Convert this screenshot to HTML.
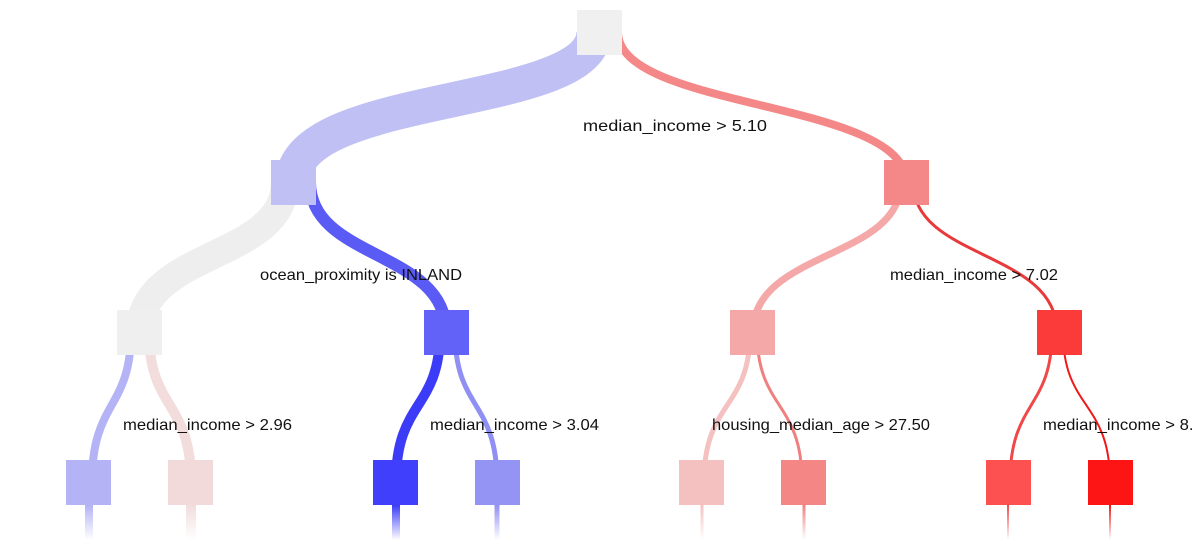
<!DOCTYPE html>
<html><head><meta charset="utf-8"><style>
html,body{margin:0;padding:0;background:#fff;width:1192px;height:551px;overflow:hidden}
svg text{font-family:"Liberation Sans",sans-serif;font-size:16px;fill:#111}
</style></head><body>
<svg width="1192" height="551" viewBox="0 0 1192 551" xmlns="http://www.w3.org/2000/svg">
<defs>
<linearGradient id="fade" x1="0" y1="0" x2="0" y2="1"><stop offset="0" stop-color="#fff" stop-opacity="0"/><stop offset="1" stop-color="#fff" stop-opacity="1"/></linearGradient>
</defs>
<g fill="none">
<path d="M594 32 C594 110 293 90 293 182" stroke="#c0c0f4" stroke-width="35"/>
<path d="M618 32 C618 110 906 100 906 182" stroke="#f48888" stroke-width="8"/>
<path d="M285 182 C285 260 140 250 140 332" stroke="#efeeee" stroke-width="28"/>
<path d="M310 182 C310 260 446 250 446 332" stroke="#5a5af4" stroke-width="12"/>
<path d="M901 182 C901 260 753 250 753 332" stroke="#f5a8a8" stroke-width="7"/>
<path d="M913 182 C913 260 1057 250 1057 332" stroke="#e83a3a" stroke-width="3"/>
<path d="M131 332 C131 410 92 400 92 482" stroke="#b3b3f5" stroke-width="8"/>
<path d="M149 332 C149 410 191 400 191 482" stroke="#f2dcdc" stroke-width="10"/>
<path d="M440 332 C440 410 396 400 396 482" stroke="#3c3cf8" stroke-width="10"/>
<path d="M455 332 C455 410 497 400 497 482" stroke="#9090f4" stroke-width="5"/>
<path d="M750 332 C750 410 704 400 704 482" stroke="#f4c0c0" stroke-width="5"/>
<path d="M757 332 C757 410 802 400 802 482" stroke="#f08080" stroke-width="3"/>
<path d="M1052 332 C1052 410 1010 400 1010 482" stroke="#f04848" stroke-width="3"/>
<path d="M1063 332 C1063 410 1110 400 1110 482" stroke="#f01818" stroke-width="2"/>
<path d="M89 500 V540" stroke="#b3b3f5" stroke-width="8"/>
<path d="M191 500 V540" stroke="#f2dcdc" stroke-width="10"/>
<path d="M396 500 V540" stroke="#3c3cf8" stroke-width="8"/>
<path d="M497 500 V540" stroke="#9090f4" stroke-width="5"/>
<path d="M702 500 V540" stroke="#f4c0c0" stroke-width="3"/>
<path d="M804 500 V540" stroke="#f08080" stroke-width="3"/>
<path d="M1008 500 V540" stroke="#f04848" stroke-width="2"/>
<path d="M1110 500 V540" stroke="#f01818" stroke-width="2"/>
</g>
<rect x="0" y="505" width="1192" height="35" fill="url(#fade)"/>
<g>
<rect x="577" y="10" width="45" height="45" fill="#f0f0f0"/>
<rect x="271" y="160" width="45" height="45" fill="#c0c0f4"/>
<rect x="884" y="160" width="45" height="45" fill="#f48888"/>
<rect x="117" y="310" width="45" height="45" fill="#efefef"/>
<rect x="424" y="310" width="45" height="45" fill="#6262f8"/>
<rect x="730" y="310" width="45" height="45" fill="#f5a8a8"/>
<rect x="1037" y="310" width="45" height="45" fill="#fb3a3a"/>
<rect x="66" y="460" width="45" height="45" fill="#b3b3f5"/>
<rect x="168" y="460" width="45" height="45" fill="#f2dada"/>
<rect x="373" y="460" width="45" height="45" fill="#4040fc"/>
<rect x="475" y="460" width="45" height="45" fill="#9494f5"/>
<rect x="679" y="460" width="45" height="45" fill="#f4c0c0"/>
<rect x="781" y="460" width="45" height="45" fill="#f48686"/>
<rect x="986" y="460" width="45" height="45" fill="#fd5050"/>
<rect x="1088" y="460" width="45" height="45" fill="#fd1414"/>
</g>
<text x="583" y="131" textLength="184" lengthAdjust="spacingAndGlyphs">median_income &gt; 5.10</text>
<text x="260" y="280" textLength="202" lengthAdjust="spacingAndGlyphs">ocean_proximity is INLAND</text>
<text x="890" y="280" textLength="168" lengthAdjust="spacingAndGlyphs">median_income &gt; 7.02</text>
<text x="123" y="430" textLength="169" lengthAdjust="spacingAndGlyphs">median_income &gt; 2.96</text>
<text x="430" y="430" textLength="169" lengthAdjust="spacingAndGlyphs">median_income &gt; 3.04</text>
<text x="712" y="430" textLength="218" lengthAdjust="spacingAndGlyphs">housing_median_age &gt; 27.50</text>
<text x="1043" y="430" textLength="169" lengthAdjust="spacingAndGlyphs">median_income &gt; 8.29</text>
</svg>
</body></html>
